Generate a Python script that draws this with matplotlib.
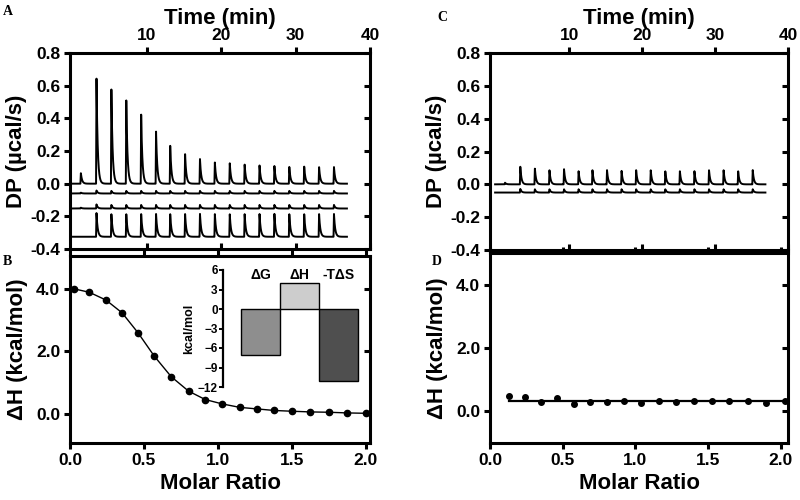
import numpy as np
import matplotlib
matplotlib.use('Agg')
import matplotlib.pyplot as plt
import matplotlib.lines as mlines

plt.rcParams['font.family'] = ['Liberation Sans', 'DejaVu Sans']
plt.rcParams['font.weight'] = 'bold'
plt.rcParams['axes.labelweight'] = 'bold'

# DATA
inj_time = [1.1, 3.2, 5.2, 7.2, 9.2, 11.2, 13.1, 15.1, 17.1, 19.1,
            21.1, 23.1, 25.1, 27.1, 29.1, 31.1, 33.1, 35.1]

# panel A thermogram traces (baseline, peak heights)
a_base = [0.0, -0.06, -0.152, -0.325]
a_peaks = [
    [0.065, 0.643, 0.586, 0.518, 0.427, 0.320, 0.235, 0.182, 0.151, 0.131,
     0.127, 0.118, 0.112, 0.108, 0.104, 0.106, 0.102, 0.102],
    [0.005, 0.018, 0.016, 0.016, 0.016, 0.016, 0.016, 0.016, 0.016, 0.016,
     0.016, 0.016, 0.016, 0.016, 0.016, 0.016, 0.016, 0.016],
    [0.005, 0.025, 0.022, 0.022, 0.022, 0.022, 0.022, 0.022, 0.022, 0.022,
     0.022, 0.022, 0.022, 0.022, 0.022, 0.022, 0.022, 0.022],
    [0.0, 0.145, 0.14, 0.14, 0.14, 0.14, 0.14, 0.14, 0.14, 0.14,
     0.14, 0.14, 0.14, 0.14, 0.14, 0.14, 0.14, 0.14],
]

# panel C thermogram traces
c_base = [0.0, -0.05]
c_peaks = [
    [0.01, 0.107, 0.097, 0.087, 0.093, 0.080, 0.087, 0.087, 0.082, 0.087,
     0.087, 0.080, 0.080, 0.080, 0.087, 0.087, 0.080, 0.087],
    [0.0, 0.022, 0.02, 0.02, 0.02, 0.02, 0.02, 0.02, 0.02, 0.02,
     0.02, 0.02, 0.02, 0.02, 0.02, 0.02, 0.02, 0.02],
]

# panel B integrated heats
b_ratio = [0.027, 0.131, 0.244, 0.353, 0.461, 0.570, 0.685, 0.802, 0.915, 1.03,
           1.148, 1.265, 1.383, 1.505, 1.627, 1.752, 1.876, 2.0]
b_dh = [4.0, 3.89, 3.64, 3.23, 2.59, 1.85, 1.19, 0.73, 0.46, 0.32,
        0.21, 0.16, 0.11, 0.085, 0.064, 0.053, 0.032, 0.02]

# panel D integrated heats
d_ratio = [0.130, 0.239, 0.35, 0.462, 0.576, 0.69, 0.806, 0.925, 1.04, 1.164,
           1.282, 1.403, 1.526, 1.647, 1.772, 1.9, 2.03]
d_dh = [0.47, 0.44, 0.31, 0.41, 0.23, 0.31, 0.31, 0.33, 0.26, 0.33,
        0.30, 0.33, 0.33, 0.33, 0.33, 0.26, 0.33]
d_fit = 0.34

# inset thermodynamic signature
sig_labels = ['\u0394G', '\u0394H', '-T\u0394S']
sig_values = [-7.0, 4.0, -11.1]
sig_colors = ['#8e8e8e', '#cdcdcd', '#4f4f4f']

t = np.linspace(-0.2, 36.9, 8000)


def trace(base, heights, rise=0.06, tau=0.16):
    # injection spike: quick linear rise, exponential return to baseline
    y = np.full_like(t, base)
    for t0, h in zip(inj_time, heights):
        dt = t - t0
        up = (dt >= 0) & (dt < rise)
        down = dt >= rise
        y[up] += h * dt[up] / rise
        y[down] += h * np.exp(-(dt[down] - rise) / tau)
    return y


LW = 2.2
TICK = 12.5
LAB = 16


def style(ax):
    for s in ax.spines.values():
        s.set_linewidth(LW)
    ax.tick_params(width=LW, length=4.5, labelsize=TICK, pad=2.5, direction='out')


def inward_right(ax):
    for tk in ax.yaxis.get_major_ticks():
        tk.tick2line.set_marker(mlines.TICKLEFT)


def inward_bottom(ax):
    for tk in ax.xaxis.get_major_ticks():
        tk.tick1line.set_marker(mlines.TICKUP)


fig = plt.figure(figsize=(8, 5), dpi=100)

dp_ticks = [-0.4, -0.2, 0.0, 0.2, 0.4, 0.6, 0.8]
dp_labels = ['-0.4', '-0.2', '0.0', '0.2', '0.4', '0.6', '0.8']

# A
axA = fig.add_axes([0.0875, 0.502, 0.375, 0.392])
for b, p in zip(a_base, a_peaks):
    axA.plot(t, trace(b, p), color='black', lw=1.4)
axA.set_xlim(-0.3, 40)
axA.set_ylim(-0.4, 0.8)
axA.set_yticks(dp_ticks)
axA.set_yticklabels(dp_labels)
axA.set_xticks([10, 20, 30, 40])
style(axA)
axA.tick_params(axis='x', top=True, labeltop=True, bottom=True, labelbottom=False)
axA.tick_params(axis='y', right=True)
axA.xaxis.set_label_position('top')
axA.set_xlabel('Time (min)', fontsize=LAB, labelpad=3)
axA.set_ylabel('DP (\u00b5cal/s)', fontsize=LAB)
axA.yaxis.set_label_coords(-0.143, 0.5)

# B
axB = fig.add_axes([0.0875, 0.114, 0.375, 0.374])
axB.plot([0.0] + b_ratio, [4.0] + b_dh, color='black', lw=1.0)
axB.plot(b_ratio, b_dh, 'o', color='black', ms=4.5)
axB.set_xlim(0, 2.03)
axB.set_ylim(-0.93, 5.05)
axB.set_yticks([0, 2, 4])
axB.set_yticklabels(['0.0', '2.0', '4.0'])
axB.set_xticks([0, 0.5, 1.0, 1.5, 2.0])
axB.set_xticklabels(['0.0', '0.5', '1.0', '1.5', '2.0'])
style(axB)
axB.tick_params(axis='x', top=True)
axB.tick_params(axis='y', right=True)
axB.set_xlabel('Molar Ratio', fontsize=LAB, labelpad=4)
axB.set_ylabel('\u0394H (kcal/mol)', fontsize=LAB)
axB.yaxis.set_label_coords(-0.14, 0.5)

# inset
axI = fig.add_axes([0.279, 0.226, 0.171, 0.234])
axI.bar(range(3), sig_values, width=1.0, color=sig_colors, edgecolor='black', lw=1.0)
for i, lab in enumerate(sig_labels):
    axI.text(i, 5.3, lab, ha='center', va='center', fontsize=10, fontweight='bold')
axI.set_xlim(-0.96, 2.55)
axI.set_ylim(-12, 6)
axI.set_yticks([6, 3, 0, -3, -6, -9, -12])
axI.set_xticks([])
for s in ['top', 'right', 'bottom']:
    axI.spines[s].set_visible(False)
axI.spines['left'].set_linewidth(1.6)
axI.tick_params(axis='y', width=1.4, length=3, labelsize=8.5, pad=1)
axI.set_ylabel('kcal/mol', fontsize=9, labelpad=2)
axI.patch.set_alpha(0)

# C
axC = fig.add_axes([0.6125, 0.5, 0.3725, 0.394])
for b, p in zip(c_base, c_peaks):
    axC.plot(t, trace(b, p), color='black', lw=1.4)
axC.set_xlim(-0.9, 40)
axC.set_ylim(-0.4, 0.8)
axC.set_yticks(dp_ticks)
axC.set_yticklabels(dp_labels)
axC.set_xticks([10, 20, 30, 40])
style(axC)
axC.tick_params(axis='x', top=True, labeltop=True, bottom=True, labelbottom=False)
axC.tick_params(axis='y', right=True)
axC.xaxis.set_label_position('top')
axC.set_xlabel('Time (min)', fontsize=LAB, labelpad=3)
axC.set_ylabel('DP (\u00b5cal/s)', fontsize=LAB)
axC.yaxis.set_label_coords(-0.143, 0.5)

# D
axD = fig.add_axes([0.6125, 0.114, 0.3725, 0.38])
axD.plot([d_ratio[0], d_ratio[-1]], [d_fit, d_fit], color='black', lw=1.6)
axD.plot(d_ratio, d_dh, 'o', color='black', ms=4)
axD.set_xlim(0, 2.05)
axD.set_ylim(-1, 5)
axD.set_yticks([0, 2, 4])
axD.set_yticklabels(['0.0', '2.0', '4.0'])
axD.set_xticks([0, 0.5, 1.0, 1.5, 2.0])
axD.set_xticklabels(['0.0', '0.5', '1.0', '1.5', '2.0'])
style(axD)
axD.tick_params(axis='x', top=True)
axD.tick_params(axis='y', right=True)
axD.set_xlabel('Molar Ratio', fontsize=LAB, labelpad=4)
axD.set_ylabel('\u0394H (kcal/mol)', fontsize=LAB)
axD.yaxis.set_label_coords(-0.14, 0.5)

# right ticks point inward, thermogram bottom ticks point inward
for ax in (axA, axB, axC, axD):
    inward_right(ax)
for ax in (axA, axC):
    inward_bottom(ax)

# panel letters
for x, y, s in [(0.004, 0.99, 'A'), (0.004, 0.49, 'B'), (0.547, 0.978, 'C'), (0.54, 0.49, 'D')]:
    fig.text(x, y, s, fontsize=10, fontweight='bold', family='Liberation Serif', va='top')

fig.savefig('out.png', dpi=100)
